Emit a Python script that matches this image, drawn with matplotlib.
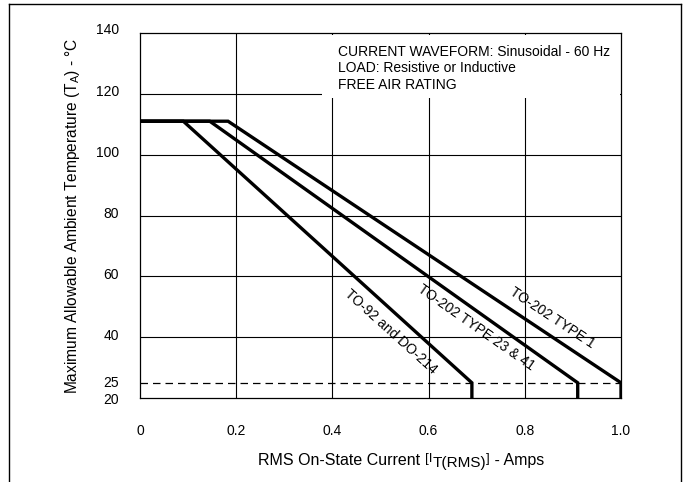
import matplotlib
matplotlib.use("Agg")
import matplotlib.pyplot as plt
from matplotlib.patches import Rectangle
from matplotlib.lines import Line2D
from matplotlib.transforms import ScaledTranslation

plt.rcParams['font.family'] = ['Liberation Sans', 'DejaVu Sans']
plt.rcParams['mathtext.fontset'] = 'custom'
plt.rcParams['mathtext.rm'] = 'Liberation Sans'
plt.rcParams['mathtext.it'] = 'Liberation Sans'

# ---- data ----
x_to92 = [0.0, 0.09, 0.69, 0.69]
y_to92 = [111, 111, 25, 20]
x_type23 = [0.0, 0.145, 0.91, 0.91]
y_type23 = [111, 111, 25, 20]
x_type1 = [0.0, 0.183, 1.0, 1.0]
y_type1 = [111, 111, 25, 20]
ambient_limit = 25

x_ticks = [0, 0.2, 0.4, 0.6, 0.8, 1.0]
x_ticklabels = ["0", "0.2", "0.4", "0.6", "0.8", "1.0"]
y_ticks = [20, 25, 40, 60, 80, 100, 120, 140]
y_ticklabels = ["20", "25", "40", "60", "80", "100", "120", "140"]
grid_x = [0.2, 0.4, 0.6, 0.8]
grid_y = [40, 60, 80, 100, 120]

curve_labels = ["TO-92 and DO-214", "TO-202 TYPE 23 & 41", "TO-202 TYPE 1"]
label_pos = [(0.522, 41.7), (0.698, 43.0), (0.857, 46.5)]
label_rot = [-42, -35, -33.5]

info_lines = ["CURRENT WAVEFORM: Sinusoidal - 60 Hz",
              "LOAD: Resistive or Inductive",
              "FREE AIR RATING"]

W, H = 686, 482
fig = plt.figure(figsize=(6.86, 4.82), dpi=100)
ax = fig.add_axes([140/W, 1-398/H, (621-140)/W, (398-33)/H])
ax.set_xlim(0, 1.0)
ax.set_ylim(20, 140)

for gx in grid_x:
    ax.axvline(gx, color='black', lw=0.8, zorder=0.5)
for gy in grid_y:
    ax.axhline(gy, color='black', lw=0.8, zorder=0.5)

# white panel behind note text
ax.add_patch(Rectangle((0.378, 118.6), 0.62, 20.6, facecolor='white',
                       edgecolor='none', zorder=1))
ax.text(0.412, 136.0, "\n".join(info_lines), fontsize=10, va='top', ha='left',
        linespacing=1.2, zorder=3)

ax.axhline(ambient_limit, color='black', lw=0.9, ls=(0, (6, 4)), zorder=1.5)

for xs, ys in [(x_to92, y_to92), (x_type23, y_type23), (x_type1, y_type1)]:
    ax.plot(xs, ys, color='black', lw=2.4, solid_joinstyle='miter', zorder=2)

for lab, (lx, ly), rot in zip(curve_labels, label_pos, label_rot):
    ax.text(lx, ly, lab, fontsize=10, rotation=rot, ha='center', va='center',
            rotation_mode='anchor', zorder=3)

ax.set_xticks(x_ticks)
ax.set_xticklabels(x_ticklabels)
ax.set_yticks(y_ticks)
ax.set_yticklabels(y_ticklabels)
ax.tick_params(axis='both', length=0, labelsize=10)
ax.tick_params(axis='x', pad=19)
ax.tick_params(axis='y', pad=15)
for s in ax.spines.values():
    s.set_linewidth(0.9)

# small vertical nudges of y tick labels (px), as in the reference
nudges_px = {20: -1, 25: 1, 40: 3, 60: 3, 80: 3, 100: 3, 120: 3, 140: 5}
for val, tick in zip(y_ticks, ax.yaxis.get_major_ticks()):
    lbl = tick.label1
    lbl.set_transform(lbl.get_transform() +
                      ScaledTranslation(0, nudges_px[val] / 100, fig.dpi_scale_trans))

ax.set_ylabel(r"Maximum Allowable Ambient Temperature (T$_{\mathregular{A}}$) - °C",
              fontsize=11.2, labelpad=10)

# x label built from pieces (bracket raised, subscript at near full size)
pieces = [("RMS On-State Current ", 11.5, 0),
          ("[I", 9.5, 3),
          ("T(RMS)", 11.0, -2),
          ("]", 9.5, 3),
          (" - Amps", 11.5, 0)]
renderer = fig.canvas.get_renderer()
x_px = 258.0
base_px = 465.0
for txt, fs, dy in pieces:
    t = fig.text(x_px / W, 1 - (base_px - dy) / H, txt, fontsize=fs,
                 ha='left', va='baseline')
    bb = t.get_window_extent(renderer)
    x_px += bb.width

# page frame
fig.add_artist(Line2D([9/W, 9/W], [0, 1-4/H], color='black', lw=1.0))
fig.add_artist(Line2D([9/W, 681/W], [1-4/H, 1-4/H], color='black', lw=1.0))
fig.add_artist(Line2D([681/W, 681/W], [1-4/H, 0], color='black', lw=1.0))

fig.savefig("out.png", dpi=100)
